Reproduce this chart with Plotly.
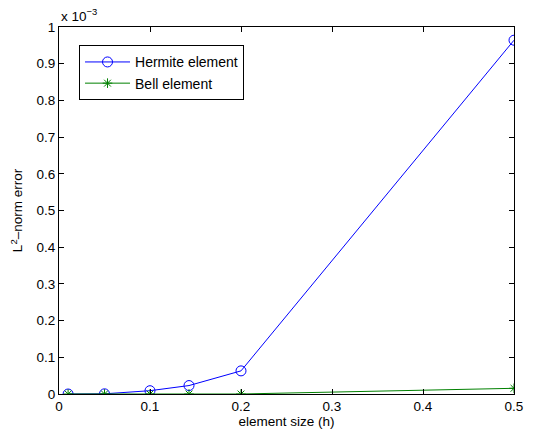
import plotly.graph_objects as go

# element size h
h = [0.01, 0.05, 0.1, 1/7, 0.2, 0.5]
# L2-norm errors, in units of 1e-3
hermite = [0.0, 0.0005, 0.009, 0.023, 0.063, 0.964]
bell = [0.0, 0.0, 0.0, 0.0, 0.0, 0.0155]

font = "Liberation Sans, Arial, sans-serif"
fs = 13.5

fig = go.Figure()
fig.add_trace(go.Scatter(
    x=h, y=hermite, mode="lines+markers", name="Hermite element",
    line=dict(color="#0000FF", width=1),
    marker=dict(symbol="circle-open", size=10, color="#0000FF", line=dict(width=1, color="#0000FF")),
))
fig.add_trace(go.Scatter(
    x=h, y=bell, mode="lines+markers", name="Bell element",
    line=dict(color="#008000", width=1),
    marker=dict(symbol="asterisk-open", size=8, color="#008000", line=dict(width=1, color="#008000")),
))

axis_common = dict(
    showline=True, linecolor="black", linewidth=1, mirror="ticks",
    ticks="inside", ticklen=5, tickcolor="black", showgrid=False, zeroline=False,
    tickfont=dict(family=font, size=fs, color="black"),
)
fig.update_xaxes(range=[0, 0.5], tickvals=[0, 0.1, 0.2, 0.3, 0.4, 0.5],
                 ticktext=["0", "0.1", "0.2", "0.3", "0.4", "0.5"],
                 title=dict(text="element size (h)", font=dict(family=font, size=fs, color="black"), standoff=0),
                 **axis_common)
fig.update_yaxes(range=[0, 1], tickvals=[0, 0.1, 0.2, 0.3, 0.4, 0.5, 0.6, 0.7, 0.8, 0.9, 1],
                 ticktext=["0", "0.1", "0.2", "0.3", "0.4", "0.5", "0.6", "0.7", "0.8", "0.9", "1"],
                 title=dict(text="L<sup>2</sup>\u2013norm error", font=dict(family=font, size=fs, color="black"), standoff=10),
                 **axis_common)

fig.add_annotation(text="x 10<sup>\u22123</sup>", xref="paper", yref="paper", x=0, y=1,
                   xanchor="left", yanchor="bottom", showarrow=False, xshift=0, yshift=1,
                   font=dict(family=font, size=fs, color="black"))

fig.update_layout(
    width=538, height=436,
    margin=dict(l=59, r=24, t=27, b=40),
    plot_bgcolor="white", paper_bgcolor="white",
    font=dict(family=font, size=fs, color="black"),
    legend=dict(x=0.044, y=0.95, xanchor="left", yanchor="top",
                bordercolor="black", borderwidth=1, bgcolor="white",
                font=dict(family=font, size=14, color="black"),
                tracegroupgap=0, itemsizing="trace", itemwidth=45),
)

fig.write_html("out.html")
